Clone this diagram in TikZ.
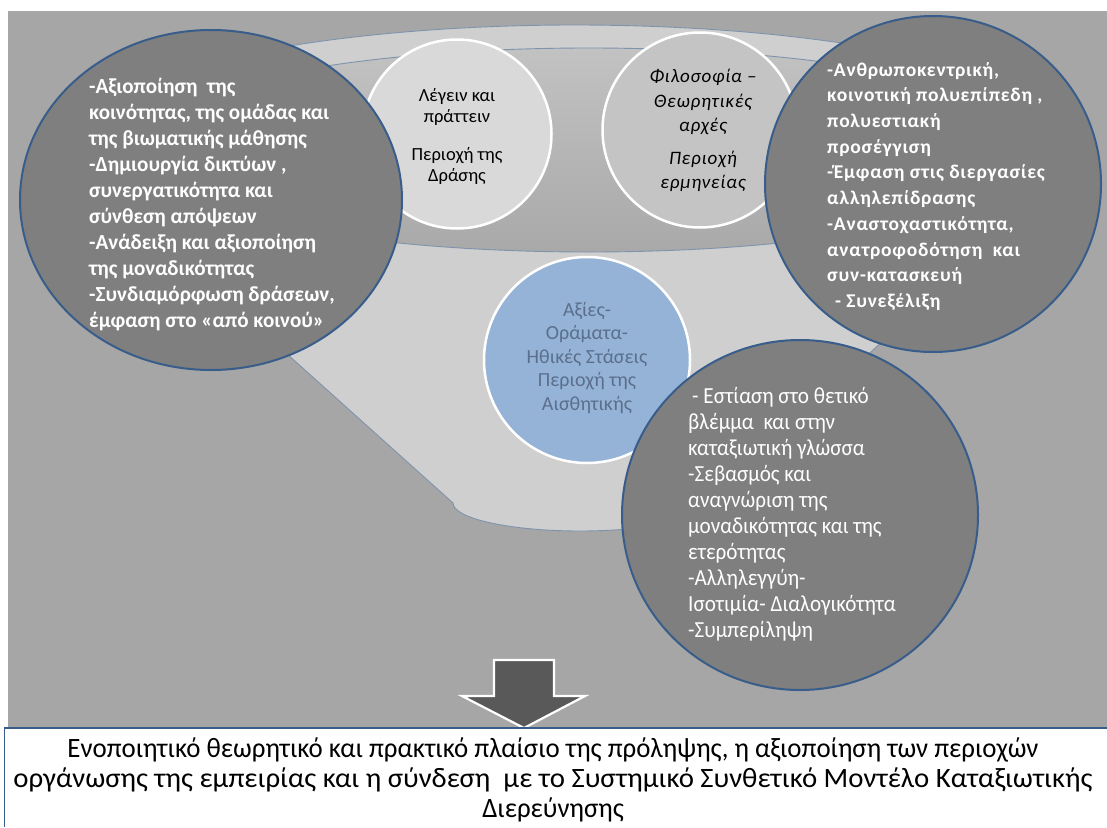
\documentclass[tikz,border=0pt]{standalone}
\usepackage{fontspec}
\setmainfont{Carlito}
\newfontfamily\condfont[FakeStretch=0.92]{Carlito}
\newfontfamily\boxfont[FakeStretch=0.96]{Carlito}
\newfontfamily\boxfontwide[FakeStretch=1.03]{Carlito}
\newfontfamily\leftfont[FakeStretch=0.98]{Carlito}
\newfontfamily\spacedfont[LetterSpace=4]{Carlito}
\usetikzlibrary{shapes.geometric}
\definecolor{bggray}{HTML}{A6A6A6}
\definecolor{funnelc}{HTML}{CFCFCF}
\definecolor{innertop}{HTML}{C2C2C2}
\definecolor{innerbot}{HTML}{A9A9A9}
\definecolor{fline}{HTML}{7F93AE}
\definecolor{cone}{HTML}{D9D9D9}
\definecolor{ctwo}{HTML}{C4C4C4}
\definecolor{cblue}{HTML}{95B3D7}
\definecolor{bluetext}{HTML}{5B6F8C}
\definecolor{cdark}{HTML}{7F7F7F}
\definecolor{darkedge}{HTML}{385D8A}
\definecolor{arrowc}{HTML}{595959}
\tikzset{
  lightcirc/.style={ellipse, draw=white, line width=2.5pt, inner sep=0pt},
  darkcirc/.style={ellipse, draw=darkedge, fill=cdark, line width=2pt, inner sep=0pt},
  whitetxt/.style={text=white, align=left, inner sep=0pt},
}
\begin{document}
\begin{tikzpicture}[x=1pt,y=-1pt]
\useasboundingbox (0,0) rectangle (1107,827);
\fill[white] (0,0) rectangle (1107,827);
\fill[bggray] (8,11) rectangle (1107,728);
% funnel body
\fill[funnelc] (60,150) -- (453,503) arc[start angle=180,end angle=360,x radius=127pt,y radius=28pt]
  -- (1090,150) arc[start angle=0,end angle=180,x radius=515pt,y radius=125pt] -- cycle;
\draw[fline, line width=0.9pt] (60,150) -- (453,503) arc[start angle=180,end angle=360,x radius=127pt,y radius=28pt] -- (1090,150);
\draw[fline, line width=0.9pt] (1090,150) arc[start angle=0,end angle=180,x radius=515pt,y radius=125pt];
% inner opening
\path[top color=innertop, bottom color=innerbot, draw=fline, line width=0.9pt] (589,150) ellipse [x radius=463pt, y radius=102pt];
% light circles
\node[lightcirc, fill=cone, minimum width=189pt, minimum height=189pt] (c1) at (457,134) {};
\node[lightcirc, fill=ctwo, minimum width=195pt, minimum height=195pt] (c2) at (700,130) {};
\node[lightcirc, fill=cblue, minimum width=206pt, minimum height=206pt] (c3) at (587,360) {};
% dark circles
\node[darkcirc, minimum width=382pt, minimum height=340pt] (dl) at (211,200) {};
\node[darkcirc, minimum width=336pt, minimum height=336pt] (dr) at (933,184) {};
\node[darkcirc, minimum width=356pt, minimum height=350pt] (db) at (800,515) {};
% texts
\node[anchor=north, align=center, inner sep=0pt, font=\fontsize{18.5}{20.5}\selectfont] (c1t) at (457,88.5)
  {Λέγειν και\\πράττειν\\[18pt]Περιοχή της\\Δράσης};
\node[anchor=north, align=center, inner sep=0pt, font=\spacedfont\itshape\fontsize{19}{24.5}\selectfont] (c2t) at (703,69)
  {Φιλοσοφία –\\Θεωρητικές\\αρχές\\[8pt]Περιοχή\\ερμηνείας};
\node[anchor=north, align=center, inner sep=0pt, text=bluetext, font=\fontsize{20}{23.5}\selectfont] (c3t) at (587,302)
  {Αξίες-\\Οράματα-\\Ηθικές Στάσεις\\Περιοχή της\\Αισθητικής};
\node[whitetxt, anchor=north west, font=\leftfont\bfseries\fontsize{21.5}{26}\selectfont] (dlt) at (89,77.5)
  {-Αξιοποίηση\ \ της\\κοινότητας, της ομάδας και\\της βιωματικής μάθησης\\-Δημιουργία δικτύων ,\\συνεργατικότητα και\\σύνθεση απόψεων\\-Ανάδειξη και αξιοποίηση\\της μοναδικότητας\\-Συνδιαμόρφωση δράσεων,\\έμφαση στο «από κοινού»};
\node[whitetxt, anchor=north west, font=\spacedfont\bfseries\fontsize{19.5}{25.7}\selectfont] (drt) at (827,62)
  {-Ανθρωποκεντρική,\\κοινοτική πολυεπίπεδη ,\\πολυεστιακή\\προσέγγιση\\-Έμφαση στις διεργασίες\\αλληλεπίδρασης\\-Αναστοχαστικότητα,\\ανατροφοδότηση\ \ και\\συν-κατασκευή\\\hspace*{8pt}- Συνεξέλιξη};
\node[whitetxt, anchor=north west, font=\condfont\fontsize{23}{26}\selectfont] (dbt) at (688,387)
  {\hspace*{4pt}- Εστίαση στο θετικό\\βλέμμα\ \ και στην\\καταξιωτική γλώσσα\\-Σεβασμός και\\αναγνώριση της\\μοναδικότητας και της\\ετερότητας\\-Αλληλεγγύη-\\Ισοτιμία- Διαλογικότητα\\-Συμπερίληψη};
% arrow
\path[fill=arrowc, draw=white, line width=2.2pt, line join=miter]
  (494,660) -- (554,660) -- (554,696) -- (585,696) -- (524,728) -- (462,696) -- (494,696) -- cycle;
% bottom box
\fill[white] (4,728) rectangle (1107,827);
\draw[darkedge, line width=2pt] (4,728) -- (1107,728);
\draw[darkedge, line width=1pt] (4,728) -- (4,827);
\node[anchor=north, align=center, inner sep=0pt, font=\boxfont\fontsize{28}{30}\selectfont] (bt) at (553,737.5)
  {Ενοποιητικό θεωρητικό και πρακτικό πλαίσιο της πρόληψης, η αξιοποίηση των περιοχών\\{\boxfontwide οργάνωσης της εμπειρίας και η σύνδεση\ \ με το Συστημικό Συνθετικό Μοντέλο Καταξιωτικής}\\Διερεύνησης};
\end{tikzpicture}
\end{document}
